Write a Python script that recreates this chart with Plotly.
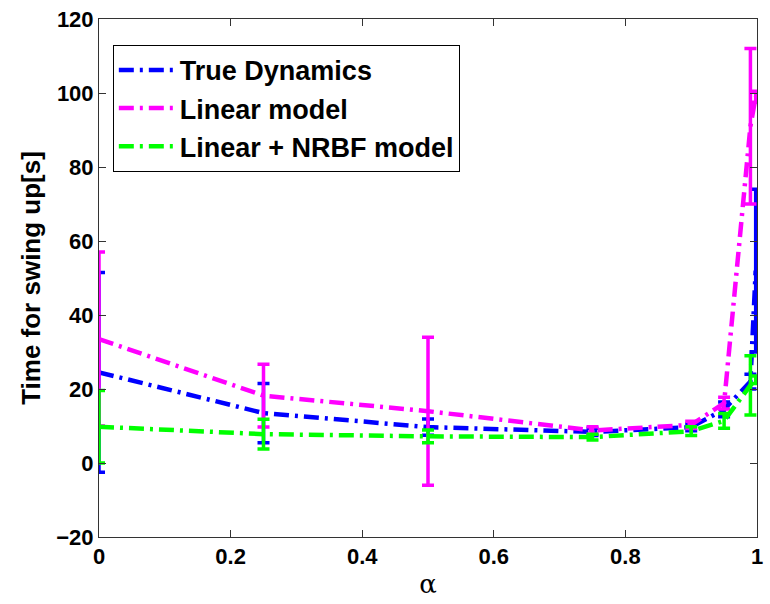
import plotly.graph_objects as go

alpha = [0, 0.25, 0.5, 0.75, 0.9, 0.95, 0.99, 0.998]

true_mean = [24.5, 13.5, 9.7, 8.4, 9.7, 14.5, 22.0, 52.0]
true_err = [27.0, 8.0, 2.2, 1.0, 1.0, 2.0, 2.0, 22.0]

lin_mean = [33.5, 18.2, 14.0, 8.8, 10.3, 16.2, 91.0, 99.0]
lin_err = [23.5, 8.5, 20.0, 1.0, 1.0, 1.6, 21.0, 1.5]

nrbf_mean = [9.8, 7.8, 7.2, 7.0, 8.6, 11.4, 21.0, 22.5]
nrbf_err = [9.8, 4.0, 1.7, 0.8, 1.2, 2.0, 8.0, 1.0]

series = [
    ("True Dynamics", true_mean, true_err, "#0000FF"),
    ("Linear model", lin_mean, lin_err, "#FF00FF"),
    ("Linear + NRBF model", nrbf_mean, nrbf_err, "#00FF00"),
]

FONT = "Liberation Sans, Arial, sans-serif"

fig = go.Figure()
for i, (name, m, e, c) in enumerate(series):
    fig.add_trace(go.Scatter(
        x=alpha, y=m, mode="lines", name=name, legendgroup=f"g{i}",
        line=dict(color=c, width=4.5, dash="15px,6px,3px,6px"),
        error_y=dict(type="data", array=e, visible=True, color=c,
                     thickness=3.5, width=6),
    ))

fig.update_layout(
    width=770, height=604,
    margin=dict(l=99, r=7, t=17, b=67),
    paper_bgcolor="white", plot_bgcolor="white",
    font=dict(family=FONT, color="black"),
    legend=dict(
        x=0.021, y=0.95, xanchor="left", yanchor="top",
        bgcolor="white", bordercolor="black", borderwidth=1,
        font=dict(family=FONT, size=27, color="black", weight="bold"),
        itemwidth=56, tracegroupgap=0,
    ),
    xaxis=dict(
        range=[0, 1], tickvals=[0, 0.2, 0.4, 0.6, 0.8, 1],
        ticktext=["0", "0.2", "0.4", "0.6", "0.8", "1"],
        ticks="inside", ticklen=7, tickcolor="#333",
        showline=True, linecolor="#333", linewidth=1, mirror="ticks",
        showgrid=False, zeroline=False,
        tickfont=dict(family=FONT, size=22, color="black", weight="bold"),
        title=dict(text="α", font=dict(family="DejaVu Serif, serif", size=26, color="black"), standoff=6),
    ),
    yaxis=dict(
        range=[-20, 120], tickvals=[-20, 0, 20, 40, 60, 80, 100, 120],
        ticks="inside", ticklen=7, tickcolor="#333",
        showline=True, linecolor="#333", linewidth=1, mirror="ticks",
        showgrid=False, zeroline=False,
        tickfont=dict(family=FONT, size=22, color="black", weight="bold"),
        title=dict(text="Time for swing up[s]", font=dict(family=FONT, size=26, color="black", weight="bold"), standoff=8),
    ),
)

fig.write_html("out.html")
